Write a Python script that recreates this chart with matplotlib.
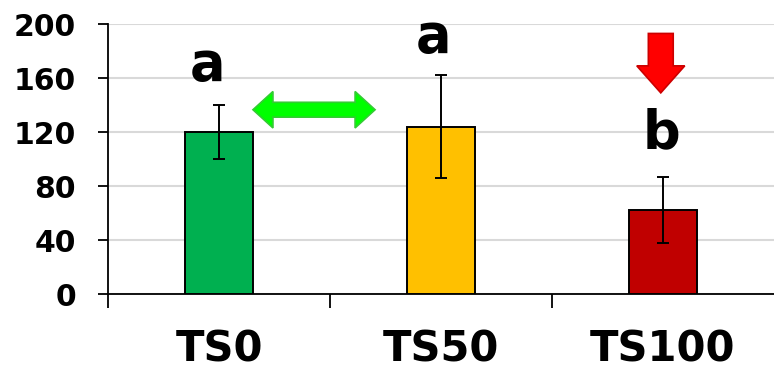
import matplotlib
matplotlib.use("Agg")
import matplotlib.pyplot as plt
from matplotlib.patches import Polygon
import numpy as np

# treatment groups, means and error bars
groups = ["TS0", "TS50", "TS100"]
means = [120, 124, 62]
errors = [20, 38, 24.5]
letters = ["a", "a", "b"]
letter_y = [170, 190, 119]
bar_colors = ["#00B050", "#FFC000", "#C00000"]
yticks = [0, 40, 80, 120, 160, 200]

plt.rcParams["font.family"] = ["DejaVu Sans"]
plt.rcParams["font.weight"] = "bold"

fig = plt.figure(figsize=(7.74, 3.69), dpi=100)
ax = fig.add_axes([108 / 774, 75 / 369, 666 / 774, 270 / 369])

x = np.arange(len(groups))
ax.bar(x, means, width=0.31, color=bar_colors, edgecolor="black", linewidth=1.4, zorder=3)
ax.errorbar(x, means, yerr=errors, fmt="none", ecolor="black", elinewidth=1.4,
            capsize=4.3, capthick=1.4, zorder=4)

# significance letters sit slightly left of the bar centres
letter_shift = [-0.05, -0.036, -0.009]
for xi, dx, lab, ly in zip(x, letter_shift, letters, letter_y):
    ax.text(xi + dx, ly, lab, ha="center", va="center", fontsize=38, fontweight="bold", zorder=5)


def double_arrow(x0, x1, yc, shaft, head, head_len):
    pts = [(x0, yc), (x0 + head_len, yc + head), (x0 + head_len, yc + shaft),
           (x1 - head_len, yc + shaft), (x1 - head_len, yc + head), (x1, yc),
           (x1 - head_len, yc - head), (x1 - head_len, yc - shaft),
           (x0 + head_len, yc - shaft), (x0 + head_len, yc - head)]
    return pts


def down_arrow(xc, top, tip, shaft, head, head_len):
    base = tip + head_len
    return [(xc - shaft, top), (xc + shaft, top), (xc + shaft, base), (xc + head, base),
            (xc, tip), (xc - head, base), (xc - shaft, base)]


# no-change arrow between TS0 and TS50, decrease arrow above TS100
ax.add_patch(Polygon(double_arrow(0.153, 0.703, 136.5, 5.5, 13.5, 0.09),
                     closed=True, facecolor="#00FF00", edgecolor="#33CC33", lw=1.2, zorder=5))
ax.add_patch(Polygon(down_arrow(1.99, 193, 149, 0.056, 0.108, 20),
                     closed=True, facecolor="#FF0000", edgecolor="#CC0000", lw=1.2, zorder=5))

ax.set_xlim(-0.5, 2.5)
ax.set_ylim(0, 200)
ax.set_yticks(yticks)
ax.set_yticklabels([str(v) for v in yticks], fontsize=21.5, fontweight="bold")
ax.yaxis.grid(True, color="#D9D9D9", linewidth=1.5, zorder=0)
ax.set_axisbelow(True)

# category labels centred, ticks on the category boundaries
ax.set_xticks(x)
ax.set_xticklabels(groups, fontsize=30, fontweight="bold")
ax.tick_params(axis="x", which="major", length=0, pad=24.5)
ax.set_xticks([-0.5, 0.5, 1.5], minor=True)
ax.tick_params(axis="x", which="minor", length=10, width=1.3, direction="out")
ax.tick_params(axis="y", length=7, width=1.3, direction="out", pad=16)

for s in ["top", "right"]:
    ax.spines[s].set_visible(False)
ax.spines["left"].set_linewidth(1.3)
ax.spines["bottom"].set_linewidth(1.3)

fig.savefig("out.png", dpi=100)
